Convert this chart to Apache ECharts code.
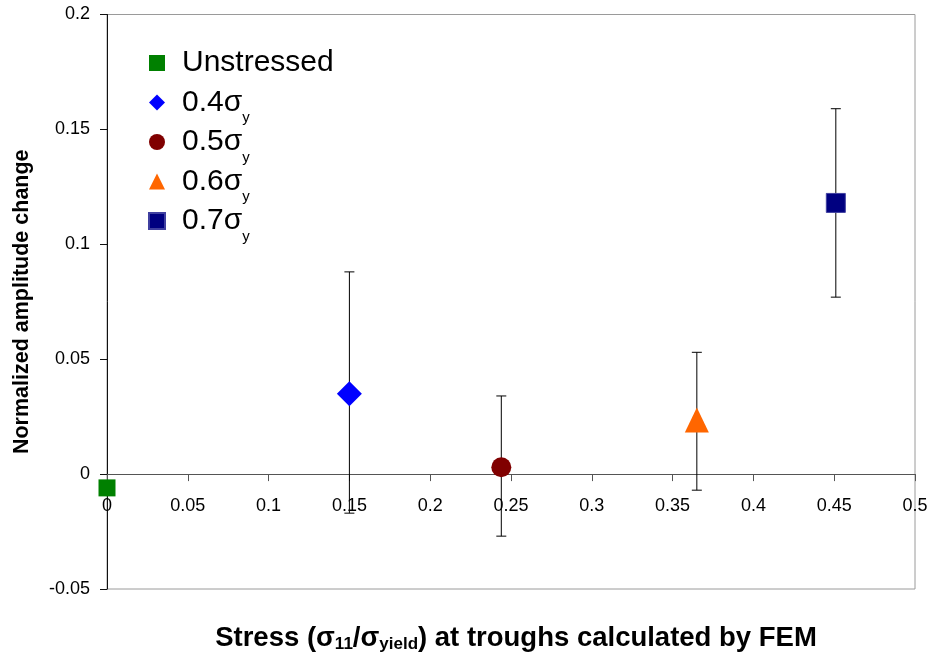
<!DOCTYPE html>
<html>
<head>
<meta charset="utf-8">
<script src="https://cdn.jsdelivr.net/npm/echarts@6/dist/echarts.min.js"></script>
<style>
  html, body { margin: 0; padding: 0; background: #fff; }
  #chart { width: 930px; height: 653px; }
</style>
</head>
<body>
<div id="chart"></div>
<script>
// Series labels (main text + subscript)
const seriesMain = ['Unstressed', '0.4σ', '0.5σ', '0.6σ', '0.7σ'];
const seriesSub = ['', 'y', 'y', 'y', 'y'];

// Stress at troughs (σ11/σyield) and normalized amplitude change
const stressVals = [0, 0.15, 0.244, 0.365, 0.451];
const amplitudeVals = [-0.006, 0.035, 0.003, 0.0235, 0.118];
// Error bar limits (lower, upper)
const errLower = [null, -0.017, -0.027, -0.007, 0.077];
const errUpper = [null, 0.088, 0.034, 0.053, 0.159];

// Axis ticks
const xTicks = { min: 0, max: 0.5, step: 0.05 };
const yTicks = { min: -0.05, max: 0.2, step: 0.05 };

const colors = ['#008000', '#0000ff', '#800000', '#ff6600', '#000080'];
const symbols = ['rect', 'diamond', 'circle', 'triangle', 'rect'];
const symbolSizes = [17, 25, 20, [24, 25], 19];

const FONT = "'Liberation Sans', Arial, sans-serif";

const CHART_H = 653;
const GRID = { left: 107, right: 15, top: 14.5, bottom: 64 };
// the x axis sits on y = 0: shift it up from the grid bottom by the height of the negative range
const gridH = CHART_H - GRID.top - GRID.bottom;
const xAxisOffset = -gridH * (0 - yTicks.min) / (yTicks.max - yTicks.min);

const names = seriesMain.map((m, i) => m + seriesSub[i]);

const scatterSeries = names.map((name, i) => ({
  name: name,
  type: 'scatter',
  z: 5,
  symbol: symbols[i],
  symbolSize: symbolSizes[i],
  itemStyle: {
    color: colors[i],
    opacity: 1,
    borderColor: i === 4 ? '#4040a0' : colors[i],
    borderWidth: i === 4 ? 1 : 0
  },
  data: [[stressVals[i], amplitudeVals[i]]]
}));

const errorData = [];
stressVals.forEach((x, i) => {
  if (errLower[i] !== null) errorData.push([x, errLower[i], errUpper[i]]);
});

const errorSeries = {
  name: 'error',
  type: 'custom',
  z: 2,
  silent: true,
  data: errorData,
  renderItem: function (params, api) {
    const x = api.value(0);
    const lo = api.coord([x, api.value(1)]);
    const hi = api.coord([x, api.value(2)]);
    const half = 5;
    const st = { stroke: '#000', lineWidth: 1 };
    return {
      type: 'group',
      children: [
        { type: 'line', shape: { x1: lo[0], y1: lo[1], x2: hi[0], y2: hi[1] }, style: st },
        { type: 'line', shape: { x1: lo[0] - half, y1: lo[1], x2: lo[0] + half, y2: lo[1] }, style: st },
        { type: 'line', shape: { x1: hi[0] - half, y1: hi[1], x2: hi[0] + half, y2: hi[1] }, style: st }
      ]
    };
  }
};

// rich-text helper: main text followed by a lowered subscript (a blank one keeps rows equal)
function subText(main, sub) {
  return '{t|' + main + '}{s|' + (sub || ' ') + '}';
}

const chart = echarts.init(document.getElementById('chart'));
chart.setOption({
  backgroundColor: '#fff',
  animation: false,
  textStyle: { fontFamily: FONT },
  grid: {
    left: GRID.left, right: GRID.right, top: GRID.top, bottom: GRID.bottom,
    outerBoundsMode: 'none',
    containLabel: false,
    show: true, borderColor: '#9a9a9a', borderWidth: 1, backgroundColor: '#fff'
  },
  legend: {
    orient: 'vertical',
    left: 143,
    top: 35,
    itemWidth: 16,
    itemHeight: 16,
    itemGap: -6.5,
    data: names,
    itemStyle: { opacity: 1 },
    formatter: function (name) {
      const i = names.indexOf(name);
      return subText(seriesMain[i], seriesSub[i]);
    },
    textStyle: {
      padding: [0, 0, 0, 12],
      rich: {
        t: { fontFamily: FONT, fontSize: 30, color: '#000', lineHeight: 46 },
        s: { fontFamily: FONT, fontSize: 15, color: '#000', lineHeight: 36, padding: [31, 0, 0, 0] }
      }
    }
  },
  xAxis: {
    type: 'value',
    min: xTicks.min,
    max: xTicks.max,
    interval: xTicks.step,
    offset: xAxisOffset,
    splitLine: { show: false },
    axisLine: { onZero: false, lineStyle: { color: '#555', width: 1 } },
    axisTick: { length: 7, lineStyle: { color: '#555' } },
    axisLabel: { fontFamily: FONT, fontSize: 18, color: '#000', margin: 23 },
    name: '{t|Stress (σ}{s|11}{t|/σ}{s|yield}{t|) at troughs calculated by FEM}',
    nameLocation: 'middle',
    nameGap: 149.5,
    nameTextStyle: {
      padding: [0, 0, 0, 10],
      rich: {
        t: { fontFamily: FONT, fontSize: 27.5, fontWeight: 'bold', color: '#000', lineHeight: 30 },
        s: { fontFamily: FONT, fontSize: 17, fontWeight: 'bold', color: '#000', lineHeight: 30, padding: [12, 0, 0, 0] }
      }
    }
  },
  yAxis: {
    type: 'value',
    min: yTicks.min,
    max: yTicks.max,
    interval: yTicks.step,
    splitLine: { show: false },
    axisLine: { onZero: false, lineStyle: { color: '#111', width: 1 } },
    axisTick: { length: 7, lineStyle: { color: '#111' } },
    axisLabel: { fontFamily: FONT, fontSize: 18, color: '#000', margin: 17 },
    name: 'Normalized amplitude change',
    nameLocation: 'middle',
    nameGap: 74,
    nameTextStyle: { fontFamily: FONT, fontSize: 21.5, fontWeight: 'bold', color: '#000' }
  },
  series: [errorSeries].concat(scatterSeries)
});
</script>
</body>
</html>
